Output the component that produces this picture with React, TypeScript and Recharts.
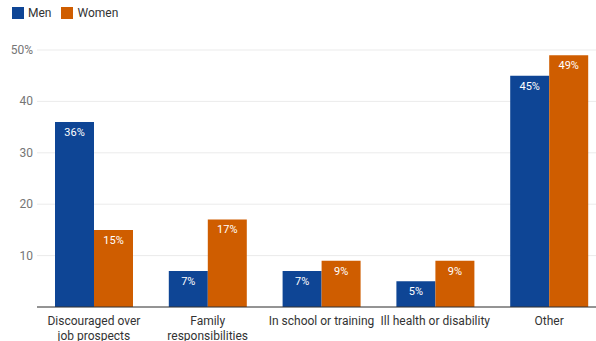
import React from "react";
import { BarChart, Bar, XAxis, YAxis, CartesianGrid, LabelList } from "recharts";

const categories = [
  "Discouraged over job prospects",
  "Family responsibilities",
  "In school or training",
  "Ill health or disability",
  "Other",
];
const tickLines = [
  ["Discouraged over", "job prospects"],
  ["Family", "responsibilities"],
  ["In school or training"],
  ["Ill health or disability"],
  ["Other"],
];
const men = [36, 7, 7, 5, 45];
const women = [15, 17, 9, 9, 49];
const yTicks = [10, 20, 30, 40, 50];

const BLUE = "#0e4595";
const ORANGE = "#cf5d00";
const FONT = "Roboto, 'Noto Sans', sans-serif";

const data = categories.map((c, i) => ({ name: c, men: men[i], women: women[i], idx: i }));

const XTick = (props: any) => {
  const { x, y, index } = props;
  const lines = tickLines[index] || [String(props.payload?.value ?? "")];
  return (
    <g transform={`translate(${x},${y})`}>
      {lines.map((l: string, i: number) => (
        <text
          key={i}
          x={0}
          y={10 + i * 15}
          textAnchor="middle"
          fill="#333"
          fontSize={12}
          fontFamily={FONT}
        >
          {l}
        </text>
      ))}
    </g>
  );
};

const YTick = (props: any) => {
  const { x, y, payload } = props;
  const v = payload.value;
  return (
    <text x={x} y={y} dy={4} textAnchor="end" fill="#757575" fontSize={12} fontFamily={FONT}>
      {v === 50 ? "50%" : String(v)}
    </text>
  );
};

export default function App() {
  return (
    <div
      style={{
        position: "absolute",
        left: 0,
        top: 0,
        width: 596,
        height: 341,
        overflow: "hidden",
        background: "#fff",
        fontFamily: FONT,
      }}
    >
      <div
        style={{
          position: "absolute",
          left: 12,
          top: 6,
          display: "flex",
          alignItems: "center",
          fontSize: 12,
          color: "#333",
          zIndex: 2,
        }}
      >
        <span style={{ display: "inline-block", width: 12, height: 12, background: BLUE, marginRight: 4 }} />
        <span style={{ marginRight: 10 }}>Men</span>
        <span style={{ display: "inline-block", width: 12, height: 12, background: ORANGE, marginRight: 4 }} />
        <span>Women</span>
      </div>
      <BarChart
        width={610}
        height={341}
        data={data}
        margin={{ top: 50, right: 4, left: 0, bottom: 0 }}
        barGap={0}
      >
        <CartesianGrid vertical={false} stroke="#ebebeb" />
        <XAxis
          dataKey="name"
          height={34}
          tick={<XTick />}
          tickLine={false}
          axisLine={{ stroke: "#333", strokeWidth: 1 }}
          interval={0}
        />
        <YAxis
          width={37}
          domain={[0, 50]}
          ticks={yTicks}
          tick={<YTick />}
          tickLine={false}
          axisLine={false}
          tickSize={0}
          tickMargin={4}
        />
        <Bar dataKey="men" fill={BLUE} barSize={39} isAnimationActive={false}>
          <LabelList
            dataKey="men"
            position="insideTop"
            offset={6}
            formatter={(v: any) => `${v}%`}
            fill="#fff"
            fontSize={11}
            fontFamily={FONT}
          />
        </Bar>
        <Bar dataKey="women" fill={ORANGE} barSize={39} isAnimationActive={false}>
          <LabelList
            dataKey="women"
            position="insideTop"
            offset={6}
            formatter={(v: any) => `${v}%`}
            fill="#fff"
            fontSize={11}
            fontFamily={FONT}
          />
        </Bar>
      </BarChart>
    </div>
  );
}
